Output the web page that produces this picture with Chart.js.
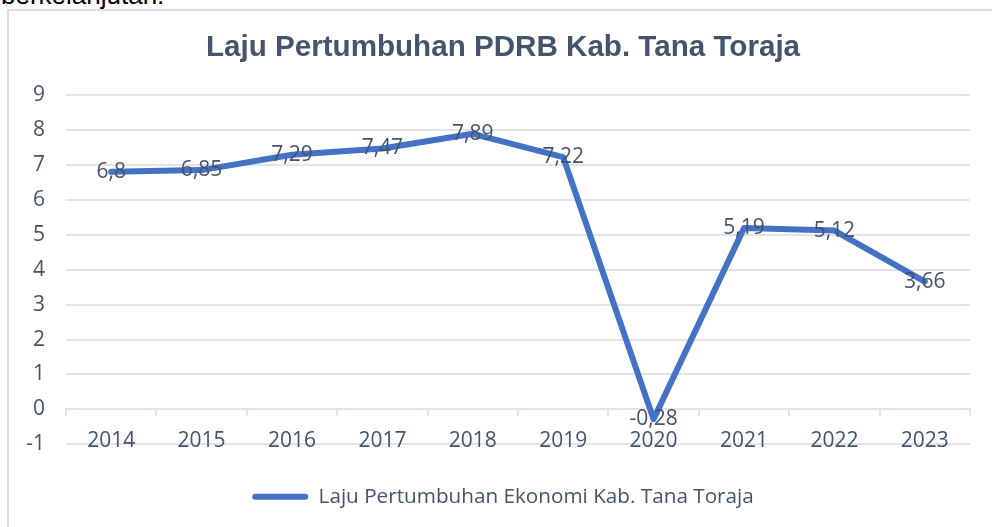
<!DOCTYPE html>
<html>
<head>
<meta charset="utf-8">
<script src="https://cdn.jsdelivr.net/npm/chart.js@4.4.1/dist/chart.umd.min.js"></script>
<style>
  html, body { margin: 0; padding: 0; background: #fff; overflow: hidden; width: 992px; height: 527px; }
  .teks { position: absolute; left: 1px; top: -18px; font: 26px 'Liberation Sans', Arial, sans-serif; line-height: 26px; color: #000; white-space: nowrap; }
  .bingkai { position: absolute; left: 7px; top: 9px; width: 1000px; height: 530px; border-left: 2px solid #dadde2; border-top: 2px solid #dadde2; }
  #chart__pdrb { position: absolute; left: 9px; top: 11px; }
</style>
</head>
<body>
<div class="teks">berkelanjutan.</div>
<div class="bingkai"></div>
<canvas id="chart__pdrb" width="988" height="516"></canvas>
<script>
const tahun = ['2014', '2015', '2016', '2017', '2018', '2019', '2020', '2021', '2022', '2023']
const lajuPertumbuhan = [6.8, 6.85, 7.29, 7.47, 7.89, 7.22, -0.28, 5.19, 5.12, 3.66]
const sumbuYMin = -1
const sumbuYMax = 9

const warnaTeks = '#44546A'
const warnaGaris = '#4472C4'
const warnaGrid = '#e1e4ea'

// label nilai di tengah titik, pakai koma desimal
const labelNilai = {
    id: 'labelNilai',
    afterDatasetsDraw(chart) {
        const ctx = chart.ctx
        const meta = chart.getDatasetMeta(0)
        ctx.save()
        ctx.font = '21px "Open Sans"'
        ctx.fillStyle = warnaTeks
        ctx.textAlign = 'center'
        ctx.textBaseline = 'middle'
        meta.data.forEach((titik, i) => {
            const teks = String(chart.data.datasets[0].data[i]).replace('.', ',')
            ctx.fillText(teks, titik.x, titik.y)
        })
        ctx.restore()
    }
}

new Chart(document.getElementById('chart__pdrb'), {
    type: 'line',
    data: {
        labels: tahun,
        datasets: [{
            label: 'Laju Pertumbuhan Ekonomi Kab. Tana Toraja',
            data: lajuPertumbuhan,
            borderColor: warnaGaris,
            backgroundColor: warnaGaris,
            borderWidth: 6,
            borderCapStyle: 'round',
            borderJoinStyle: 'round',
            pointRadius: 0,
            tension: 0
        }]
    },
    options: {
        responsive: false,
        animation: false,
        layout: {
            padding: { left: 0, right: 0, top: 0, bottom: 10 }
        },
        plugins: {
            title: {
                display: true,
                text: 'Laju Pertumbuhan PDRB Kab. Tana Toraja',
                color: warnaTeks,
                font: { family: '"Liberation Sans", Arial', size: 29.6, weight: 'bold' },
                padding: { top: 19.2, bottom: 29.3 }
            },
            legend: {
                position: 'bottom',
                labels: {
                    color: warnaTeks,
                    font: { family: '"Open Sans"', size: 20.7 },
                    boxWidth: 56,
                    boxHeight: 6,
                    useBorderRadius: true,
                    borderRadius: 3,
                    padding: 42,
                    generateLabels: chart => Chart.defaults.plugins.legend.labels.generateLabels(chart)
                        .map(item => ({ ...item, lineWidth: 0 }))
                }
            },
            tooltip: { enabled: false }
        },
        scales: {
            x: {
                position: { y: 0 },
                offset: true,
                grid: {
                    drawOnChartArea: false, // hanya tanda tick di bawah garis 0
                    offset: true,
                    tickLength: 6,
                    color: warnaGrid,
                    lineWidth: 2
                },
                border: { display: true, color: warnaGrid, width: 2 },
                ticks: {
                    color: warnaTeks,
                    font: { family: '"Open Sans"', size: 21 },
                    padding: 13,
                    autoSkip: false,
                    maxRotation: 0,
                    minRotation: 0
                }
            },
            y: {
                min: sumbuYMin,
                max: sumbuYMax,
                afterFit: scale => { scale.width = 57 },
                grid: {
                    drawTicks: false,
                    color: warnaGrid,
                    lineWidth: 2
                },
                border: { display: false },
                ticks: {
                    stepSize: 1,
                    color: warnaTeks,
                    font: { family: '"Open Sans"', size: 21 },
                    padding: 21
                }
            },
            // sumbu kosong di kanan, cuma buat ruang kosong supaya judul tetap di tengah
            yKanan: {
                type: 'linear',
                position: 'right',
                afterFit: scale => { scale.width = 27 },
                grid: { display: false },
                border: { display: false },
                ticks: { display: false }
            }
        }
    },
    plugins: [labelNilai]
});
</script>
</body>
</html>
